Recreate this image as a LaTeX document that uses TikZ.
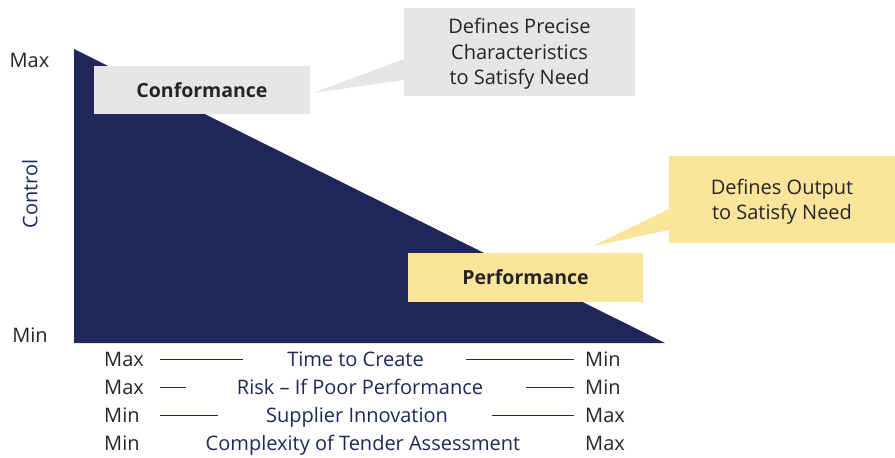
\documentclass[tikz,border=0pt]{standalone}
\usepackage{fontspec}
\setmainfont{Open Sans}[Ligatures=NoCommon]
\usetikzlibrary{positioning}

\definecolor{navy}{RGB}{31,38,89}
\definecolor{ink}{RGB}{38,36,38}
\definecolor{boxgray}{RGB}{230,230,230}
\definecolor{boxyellow}{RGB}{251,229,154}

\tikzset{
	tag/.style={inner sep=0pt, font=\fontsize{20}{25.5}\selectfont, text=ink},
	band/.style={inner sep=0pt, font=\fontsize{20}{25.5}\selectfont, text=navy, anchor=base},
	label box/.style={draw=none, inner sep=0pt, align=center, font=\fontsize{19.5}{25.5}\selectfont\bfseries, text=ink},
	note box/.style={draw=none, inner sep=0pt, align=center, text depth=0pt, font=\fontsize{20}{25.5}\selectfont, text=ink},
	rule/.style={navy, line width=0.9pt},
}

\begin{document}
\begin{tikzpicture}[x=1pt,y=-1pt]

% canvas %{{{2

	\useasboundingbox (0,0) rectangle (895,458);

% triangle %{{{2

	\coordinate (T1) at (74,49);
	\coordinate (T2) at (74,343);
	\coordinate (T3) at (665,343);
	\fill[navy] (T1) -- (T2) -- (T3) -- cycle;

% axis labels %{{{2

	\node[tag, anchor=base] (ymax) at (29.5,67) {Max};
	\node[tag, anchor=base] (ymin) at (30,342) {Min};
	\node[tag, text=navy, rotate=90] (ctrl) at (30,194) {Control};

% conformance %{{{2

	\node[label box, fill=boxgray, minimum width=216pt, minimum height=48pt] (conf) at (202,90) {Conformance};
	\node[note box, fill=boxgray, minimum width=231pt, minimum height=88pt] (precise) at (519.5,51.5) {Defines Precise\\Characteristics\\to Satisfy Need};
	\coordinate (ptip) at (313,93);
	\fill[boxgray] ([yshift=-7.5pt]precise.west) -- (ptip) -- ([yshift=-28.5pt]precise.west) -- cycle;

% performance %{{{2

	\node[label box, fill=boxyellow, minimum width=235pt, minimum height=49pt] (perf) at (525.5,277.5) {Performance};
	\node[note box, fill=boxyellow, minimum width=226pt, minimum height=87pt] (output) at (782,199.5) {Defines Output\\to Satisfy Need};
	\coordinate (otip) at (593,246);
	\fill[boxyellow] ([yshift=-9.5pt]output.west) -- (otip) -- ([yshift=-30.5pt]output.west) -- cycle;

% bottom scale %{{{2

	\node[tag, anchor=base west] (l1) at (104,366) {Max};
	\node[tag, anchor=base west] (l2) at (104,394) {Max};
	\node[tag, anchor=base west] (l3) at (104,422) {Min};
	\node[tag, anchor=base west] (l4) at (104,450) {Min};

	\node[band] (m1) at (355.5,366) {Time to Create};
	\node[band] (m2) at (360,394) {Risk -- If Poor Performance};
	\node[band] (m3) at (357,422) {Supplier Innovation};
	\node[band] (m4) at (363,450) {Complexity of Tender Assessment};

	\node[tag, anchor=base west] (r1) at (585,366) {Min};
	\node[tag, anchor=base west] (r2) at (585,394) {Min};
	\node[tag, anchor=base west] (r3) at (585,422) {Max};
	\node[tag, anchor=base west] (r4) at (585,450) {Max};

% scale rules %{{{2

	\draw[rule] (160,359) -- (243,359);
	\draw[rule] (466,359) -- (574,359);
	\draw[rule] (160,387) -- (186,387);
	\draw[rule] (526,387) -- (574,387);
	\draw[rule] (160,415) -- (218,415);
	\draw[rule] (492,415) -- (574,415);

\end{tikzpicture}
\end{document}
